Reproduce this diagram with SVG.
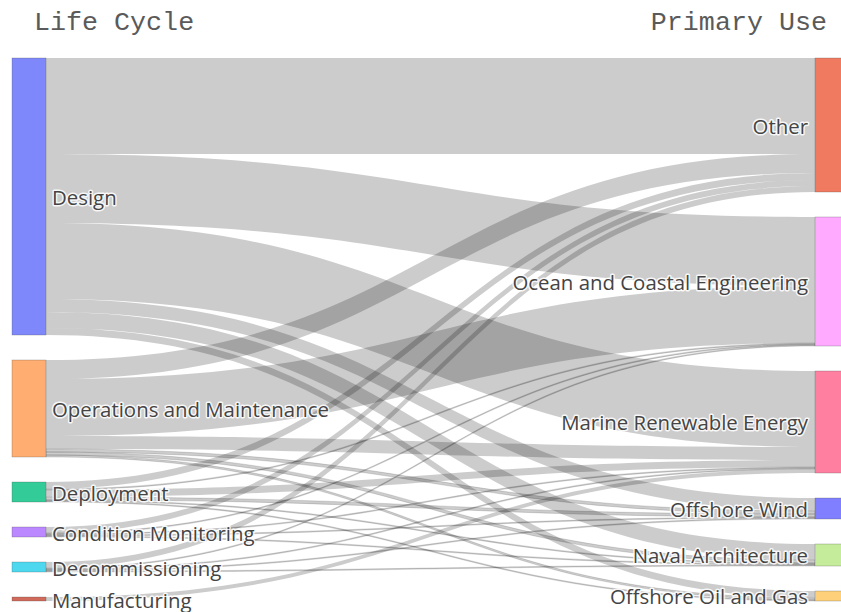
<svg xmlns="http://www.w3.org/2000/svg" width="841" height="612" viewBox="0 0 841 612">
<style>
.title{font-family:"Liberation Mono","Courier New",monospace;font-size:26.7px;fill:#5a5a5a}
.lbl{font-family:"Open Sans","Noto Sans",sans-serif;font-size:20.4px;fill:#444;stroke:#fff;stroke-width:3;stroke-opacity:0.85;stroke-linejoin:round;paint-order:stroke fill}
.lnk{fill:#000;fill-opacity:0.2}
.thin{stroke:#000;stroke-opacity:0.22;stroke-width:0.6}
.node rect{stroke:#444;stroke-opacity:0.5;stroke-width:0.5}
</style>
<rect width="841" height="612" fill="#fff"/>
<text class="title" x="34" y="30">Life Cycle</text>
<text class="title" x="827" y="30" text-anchor="end">Primary Use</text>
<g id="links">
<path class="lnk" d="M46,58 C430.5,58 430.5,58 815,58 L815,154 C430.5,154 430.5,154 46,154 Z"/>
<path class="lnk" d="M46,154 C430.5,154 430.5,217 815,217 L815,286 C430.5,286 430.5,223 46,223 Z"/>
<path class="lnk" d="M46,223 C430.5,223 430.5,371 815,371 L815,447 C430.5,447 430.5,299 46,299 Z"/>
<path class="lnk" d="M46,299 C430.5,299 430.5,498 815,498 L815,511 C430.5,511 430.5,312 46,312 Z"/>
<path class="lnk" d="M46,312 C430.5,312 430.5,544 815,544 L815,560 C430.5,560 430.5,328 46,328 Z"/>
<path class="lnk" d="M46,328 C430.5,328 430.5,591 815,591 L815,598 C430.5,598 430.5,335 46,335 Z"/>
<path class="lnk" d="M46,360 C430.5,360 430.5,154 815,154 L815,173 C430.5,173 430.5,379 46,379 Z"/>
<path class="lnk" d="M46,379 C430.5,379 430.5,286 815,286 L815,343 C430.5,343 430.5,436 46,436 Z"/>
<path class="lnk" d="M46,436 C430.5,436 430.5,447 815,447 L815,460 C430.5,460 430.5,449 46,449 Z"/>
<path class="lnk thin" d="M46,449 C430.5,449 430.5,511 815,511 L815,514 C430.5,514 430.5,452 46,452 Z"/>
<path class="lnk thin" d="M46,452 C430.5,452 430.5,560 815,560 L815,563 C430.5,563 430.5,455 46,455 Z"/>
<path class="lnk thin" d="M46,455 C430.5,455 430.5,598 815,598 L815,600 C430.5,600 430.5,457 46,457 Z"/>
<path class="lnk" d="M46,482 C430.5,482 430.5,173 815,173 L815,180 C430.5,180 430.5,489 46,489 Z"/>
<path class="lnk thin" d="M46,489 C430.5,489 430.5,343 815,343 L815,344 C430.5,344 430.5,490 46,490 Z"/>
<path class="lnk" d="M46,490 C430.5,490 430.5,460 815,460 L815,467 C430.5,467 430.5,497 46,497 Z"/>
<path class="lnk thin" d="M46,497 C430.5,497 430.5,514 815,514 L815,517 C430.5,517 430.5,500 46,500 Z"/>
<path class="lnk thin" d="M46,500 C430.5,500 430.5,563 815,563 L815,564 C430.5,564 430.5,501 46,501 Z"/>
<path class="lnk thin" d="M46,501 C430.5,501 430.5,600 815,600 L815,601 C430.5,601 430.5,502 46,502 Z"/>
<path class="lnk" d="M46,527 C430.5,527 430.5,180 815,180 L815,186 C430.5,186 430.5,533 46,533 Z"/>
<path class="lnk thin" d="M46,533 C430.5,533 430.5,344 815,344 L815,345 C430.5,345 430.5,534 46,534 Z"/>
<path class="lnk thin" d="M46,534 C430.5,534 430.5,467 815,467 L815,468 C430.5,468 430.5,535 46,535 Z"/>
<path class="lnk thin" d="M46,535 C430.5,535 430.5,517 815,517 L815,518 C430.5,518 430.5,536 46,536 Z"/>
<path class="lnk thin" d="M46,536 C430.5,536 430.5,564 815,564 L815,565 C430.5,565 430.5,537 46,537 Z"/>
<path class="lnk" d="M46,562 C430.5,562 430.5,186 815,186 L815,192 C430.5,192 430.5,568 46,568 Z"/>
<path class="lnk thin" d="M46,568 C430.5,568 430.5,345 815,345 L815,346 C430.5,346 430.5,569 46,569 Z"/>
<path class="lnk thin" d="M46,569 C430.5,569 430.5,468 815,468 L815,469 C430.5,469 430.5,570 46,570 Z"/>
<path class="lnk thin" d="M46,570 C430.5,570 430.5,518 815,518 L815,519 C430.5,519 430.5,571 46,571 Z"/>
<path class="lnk thin" d="M46,571 C430.5,571 430.5,565 815,565 L815,566 C430.5,566 430.5,572 46,572 Z"/>
<path class="lnk" d="M46,597 C430.5,597 430.5,469 815,469 L815,473 C430.5,473 430.5,601 46,601 Z"/>
</g>
<g id="node-design" class="node"><rect x="12" y="58" width="34" height="277" fill="#7f88fb"/><text class="lbl" x="52" y="205">Design</text></g>
<g id="node-om" class="node"><rect x="12" y="360" width="34" height="97" fill="#ffad70"/><text class="lbl" x="52" y="417">Operations and Maintenance</text></g>
<g id="node-deployment" class="node"><rect x="12" y="482" width="34" height="20" fill="#33cc99"/><text class="lbl" x="52" y="500.5">Deployment</text></g>
<g id="node-cm" class="node"><rect x="12" y="527" width="34" height="10" fill="#bb88ff"/><text class="lbl" x="52" y="540.5">Condition Monitoring</text></g>
<g id="node-decom" class="node"><rect x="12" y="562" width="34" height="10" fill="#4dd8f0"/><text class="lbl" x="52" y="575.5">Decommissioning</text></g>
<g id="node-manuf" class="node"><rect x="12" y="597" width="34" height="4" fill="#d06a5a"/><text class="lbl" x="52" y="607.5">Manufacturing</text></g>
<g id="node-other" class="node"><rect x="815" y="58" width="34" height="134" fill="#f07a60"/><text class="lbl" x="808" y="133.5" text-anchor="end">Other</text></g>
<g id="node-ocean" class="node"><rect x="815" y="217" width="34" height="129" fill="#ffaaff"/><text class="lbl" x="808" y="289.5" text-anchor="end">Ocean and Coastal Engineering</text></g>
<g id="node-marine" class="node"><rect x="815" y="371" width="34" height="102" fill="#ff7fa0"/><text class="lbl" x="808" y="430" text-anchor="end">Marine Renewable Energy</text></g>
<g id="node-wind" class="node"><rect x="815" y="498" width="34" height="21" fill="#7f7fff"/><text class="lbl" x="808" y="516.5" text-anchor="end">Offshore Wind</text></g>
<g id="node-naval" class="node"><rect x="815" y="544" width="34" height="22" fill="#c5ec9a"/><text class="lbl" x="808" y="563" text-anchor="end">Naval Architecture</text></g>
<g id="node-oog" class="node"><rect x="815" y="591" width="34" height="10" fill="#fed07a"/><text class="lbl" x="808" y="604" text-anchor="end">Offshore Oil and Gas</text></g>
</svg>
